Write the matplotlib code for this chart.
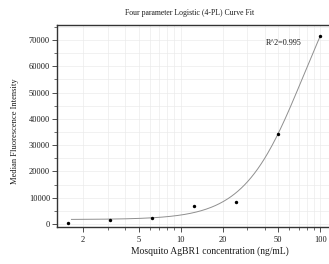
import numpy as np
import matplotlib
matplotlib.use("Agg")
import matplotlib.pyplot as plt
from matplotlib.ticker import LogLocator, FixedLocator, NullFormatter, MultipleLocator

# data
conc = [1.5625, 3.125, 6.25, 12.5, 25, 50, 100]
mfi = [300, 1400, 2200, 7000, 8400, 34400, 71500]
xticks = [2, 5, 10, 20, 50, 100]
yticks = [0, 10000, 20000, 30000, 40000, 50000, 60000, 70000]
title = "Four parameter Logistic (4-PL) Curve Fit"
xlabel = "Mosquito AgBR1 concentration (ng/mL)"
ylabel = "Median Fluorescence Intensity"
r2_text = "R^2=0.995"

# 4PL fit parameters (bottom, slope, EC50, top)
fit_A, fit_B, fit_C, fit_D = 1700.0, 2.05, 75.5, 110700.0

def f4(x):
    return fit_D + (fit_A - fit_D) / (1 + (x / fit_C) ** fit_B)

plt.rcParams['font.family'] = ['Liberation Serif', 'DejaVu Serif']
fig = plt.figure(figsize=(3.29, 2.64), dpi=100)
L, R, B_, T = 57, 329, 227, 25
ax = fig.add_axes([L / 329, 1 - B_ / 264, (R - L) / 329, (B_ - T) / 264])
ax.set_xscale('log')
ax.set_xlim(1.30, 115.5)
ax.set_ylim(-1150, 75700)

xs = np.logspace(np.log10(1.65), np.log10(100), 300)
ax.plot(xs, f4(xs), color='#8f8f8f', lw=0.7, zorder=3)
ax.scatter(conc, mfi, s=6, color='black', zorder=4, linewidths=0)

ax.xaxis.set_major_locator(FixedLocator(xticks))
ax.set_xticklabels([str(t) for t in xticks])
ax.xaxis.set_minor_locator(LogLocator(base=10, subs=np.arange(1, 10)))
ax.xaxis.set_minor_formatter(NullFormatter())
ax.yaxis.set_major_locator(FixedLocator(yticks))
ax.set_yticklabels([str(t) for t in yticks])
ax.yaxis.set_minor_locator(MultipleLocator(5000))

ax.grid(True, which='both', color='#ebebeb', lw=0.5, zorder=0)
ax.set_axisbelow(True)
ax.spines['right'].set_visible(False)
for s in ['left', 'bottom', 'top']:
    ax.spines[s].set_linewidth(1.0)
    ax.spines[s].set_color('#333333')
ax.tick_params(which='major', direction='out', length=3.5, width=0.6, labelsize=6, pad=1.5, colors='#333333', labelcolor='#1a1a1a')
ax.tick_params(which='minor', direction='out', length=2, width=0.5, colors='#333333')
ax.tick_params(axis='x', which='both', top=False)
ax.tick_params(axis='x', which='major', pad=3)

fig.text(190 / 329, 1 - 13 / 264, title, ha='center', va='center', fontsize=5.6, color='#1a1a1a')
fig.text(210 / 329, 1 - 251 / 264, xlabel, ha='center', va='center', fontsize=6.9, color='#1a1a1a')
fig.text(15 / 329, 1 - 131 / 264, ylabel, ha='center', va='center', rotation=90, fontsize=6.1, color='#1a1a1a')
fig.text(284 / 329, 1 - 42.7 / 264, r2_text, ha='center', va='center', fontsize=5.9, color='#1a1a1a')

fig.savefig('out.png', dpi=100)
